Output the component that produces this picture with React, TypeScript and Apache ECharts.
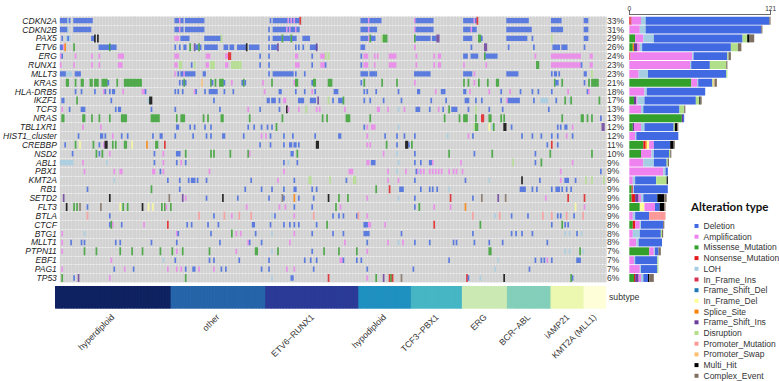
import React, { useEffect, useRef } from "react";
import * as echarts from "echarts";

type Cell = [number, string, number?];

const GENES = ["CDKN2A","CDKN2B","PAX5","ETV6","ERG","RUNX1","MLLT3","KRAS","HLA-DRB5","IKZF1","TCF3","NRAS","TBL1XR1","HIST1_cluster","CREBBP","NSD2","ABL1","PBX1","KMT2A","RB1","SETD2","FLT3","BTLA","CTCF","BTG1","MLLT1","PTPN11","EBF1","PAG1","TP53"];
const PERCENTS = ["33%","31%","29%","26%","24%","23%","23%","21%","18%","17%","13%","13%","12%","12%","11%","10%","9%","9%","9%","9%","9%","9%","9%","8%","8%","8%","7%","7%","7%","6%"];
const SAMPLE_COUNT = 367;

const SUBTYPES = ["hyperdiploid","other","ETV6\u2212RUNX1","hypodiploid","TCF3\u2212PBX1","ERG","BCR\u2212ABL","iAMP21","KMT2A (MLL1)"];
const SUBTYPE_SIZES = [77,63,62,35,34,30,29,22,15];
const SUBTYPE_COLORS = ["#0e2160","#2664a9","#2b3a97","#1f90c0","#46b6c4","#cbe9b3","#83cfba","#ecf7b0","#fefed8"];

const ALTERATIONS = ["Deletion","Amplification","Missense_Mutation","Nonsense_Mutation","LOH","In_Frame_Ins","Frame_Shift_Del","In_Frame_Del","Splice_Site","Frame_Shift_Ins","Disruption","Promoter_Mutation","Promoter_Swap","Multi_Hit","Complex_Event"];
const CODES = ["D","A","M","N","L","I","E","Y","S","F","R","P","W","X","C"];
const COLORS = ["#4169e1","#ee82ee","#33a02c","#e31a1c","#a6cee3","#d9304f","#1f78b4","#ffff99","#ff7f00","#6a3d9a","#b2df8a","#fb9a99","#fdbf6f","#000000","#7f6f60"];
const TALL_RATIO = 0.9;
const SHORT_RATIO = 0.6;

const CDKN2A: Cell[] = [[0,"D",5],[5,"L"],[6,"D"],[9,"D",13],[77,"D",3],[80,"A"],[81,"D",2],[84,"D",13],[141,"D"],[143,"D",10],[153,"A"],[154,"D"],[155,"A"],[156,"D"],[157,"A"],[158,"D",3],[161,"N"],[202,"D",5],[207,"A"],[208,"D",8],[238,"A"],[239,"D",12],[271,"D",7],[278,"A"],[279,"D"],[280,"N"],[300,"D",15],[330,"D",7],[352,"D",3]];
const CDKN2B: Cell[] = [[0,"D",5],[5,"L"],[9,"D",12],[77,"D",3],[80,"A"],[81,"D",2],[84,"D",13],[140,"D"],[143,"D",9],[152,"A"],[153,"D"],[154,"A"],[155,"D",3],[158,"A"],[159,"D",2],[202,"D",5],[207,"A"],[208,"D",5],[238,"A"],[239,"D",12],[271,"D",5],[276,"A"],[277,"D",3],[300,"D",17],[330,"D",3],[333,"D",5],[352,"D",3]];
const PAX5: Cell[] = [[1,"D"],[4,"L",3],[5,"D"],[21,"D",2],[23,"X"],[25,"X"],[77,"A",3],[81,"D",6],[97,"D",11],[108,"R"],[140,"D"],[143,"D",6],[149,"M"],[150,"D",5],[155,"M"],[156,"D",3],[163,"D",5],[202,"D",5],[207,"A"],[208,"M"],[209,"D",3],[216,"R"],[217,"M",3],[238,"M"],[239,"D",10],[250,"D",3],[253,"F",2],[271,"D",6],[281,"M",2],[283,"D"],[300,"D",14],[317,"D"],[330,"R"],[352,"D",3]];
const ETV6: Cell[] = [[0,"D",2],[2,"A"],[3,"S"],[9,"M"],[26,"D",8],[33,"M"],[34,"D",4],[77,"D"],[80,"D"],[83,"D",2],[87,"M"],[90,"F"],[91,"D",2],[93,"M"],[94,"D"],[97,"D",4],[101,"D",5],[110,"D",3],[114,"D",3],[119,"D",6],[125,"X"],[127,"D",7],[140,"D"],[142,"D",4],[146,"F"],[158,"D"],[160,"D"],[163,"D"],[168,"D",5],[172,"F"],[202,"D",3],[238,"A"],[276,"D"],[285,"F",2],[301,"D"],[318,"D"],[331,"D",5],[337,"D",4],[352,"D"]];
const ERG: Cell[] = [[0,"A"],[1,"D"],[10,"A"],[21,"A"],[26,"A"],[39,"A",4],[77,"A",3],[98,"A",3],[111,"A",2],[113,"N",2],[134,"D"],[140,"D"],[158,"A",2],[169,"D"],[175,"A",3],[178,"R"],[180,"R"],[202,"D"],[204,"A",3],[211,"A"],[213,"A"],[221,"A",5],[239,"A"],[251,"A"],[254,"A",2],[271,"D",3],[276,"D",5],[285,"M"],[286,"D",8],[319,"A"],[330,"A",20],[356,"A",2]];
const RUNX1: Cell[] = [[0,"A"],[9,"A"],[21,"A"],[26,"A"],[39,"A",3],[77,"A",2],[80,"R",2],[88,"D"],[90,"R"],[98,"A",2],[101,"R",3],[111,"A",2],[115,"R",7],[134,"D"],[140,"D"],[158,"A",3],[169,"D"],[175,"A",3],[178,"D"],[202,"D"],[204,"A",3],[211,"A"],[221,"A",5],[239,"A"],[251,"A"],[254,"A",2],[271,"A"],[286,"A"],[320,"M",2],[330,"A",20],[350,"D"],[356,"A",2]];
const MLLT3: Cell[] = [[0,"D",4],[4,"L",4],[10,"D",4],[77,"A"],[79,"D"],[81,"D",2],[83,"A"],[84,"D",7],[96,"D",2],[140,"D"],[143,"D",14],[158,"D"],[164,"D"],[202,"D",5],[208,"D",4],[212,"D"],[238,"D",10],[248,"D"],[271,"D",6],[278,"A"],[300,"D",8],[330,"D"],[332,"D",2],[335,"D"],[352,"D",2],[357,"R"]];
const KRAS: Cell[] = [[4,"M",2],[10,"M"],[14,"M",2],[20,"M",2],[23,"M",3],[28,"M",4],[32,"D"],[38,"M"],[43,"M",12],[80,"D"],[82,"D"],[83,"M"],[84,"D"],[95,"W"],[101,"M"],[102,"D"],[104,"M"],[107,"M",3],[110,"D"],[115,"A"],[122,"D"],[123,"M"],[124,"D"],[136,"A"],[142,"M"],[157,"A"],[158,"M",2],[169,"D"],[170,"M",2],[180,"M",3],[202,"D"],[204,"M"],[216,"M"],[226,"M"],[238,"A"],[271,"M"],[274,"M"],[278,"A"],[281,"M"],[287,"M"],[293,"M",2],[332,"M"],[333,"D",2],[337,"M"],[352,"D"],[355,"M"],[357,"M",5]];
const HLA_DRB5: Cell[] = [[10,"D"],[14,"D"],[23,"D"],[29,"A"],[30,"D"],[33,"D"],[35,"D",2],[42,"A"],[55,"A",2],[57,"D"],[77,"D"],[79,"D"],[82,"D"],[90,"A"],[91,"D"],[97,"D"],[100,"D",5],[105,"D"],[110,"D"],[116,"D"],[137,"A"],[147,"D",2],[158,"D"],[164,"D"],[169,"A"],[171,"D"],[184,"D",3],[204,"D"],[206,"D"],[212,"D"],[227,"D"],[240,"D",2],[252,"A"],[256,"D",3],[271,"D",2],[275,"A"],[288,"A"],[296,"D"],[302,"A"],[309,"D"],[317,"D"],[321,"D"],[330,"D"],[341,"A"],[354,"D"],[355,"A"]];
const IKZF1: Cell[] = [[1,"D",2],[11,"M"],[34,"D"],[59,"L"],[60,"X",2],[103,"D"],[139,"D",2],[142,"D",3],[147,"D"],[150,"A",2],[160,"D",4],[168,"D",4],[173,"F"],[180,"R"],[183,"D"],[187,"D",3],[190,"M"],[204,"D"],[208,"D"],[217,"D"],[229,"D"],[249,"D"],[259,"D"],[272,"D",3],[279,"D"],[283,"D"],[296,"D"],[300,"A"],[301,"D",8],[318,"D"],[323,"L",5],[333,"D"],[339,"M"],[342,"L"],[343,"M"],[362,"M"]];
const TCF3: Cell[] = [[1,"A"],[6,"D"],[14,"D",3],[37,"D"],[39,"D",2],[61,"D"],[77,"D"],[107,"D"],[126,"A"],[134,"D"],[147,"D"],[152,"X"],[153,"A"],[160,"A"],[165,"R"],[172,"A"],[174,"A"],[191,"A"],[213,"A",2],[220,"A"],[227,"L"],[231,"A"],[239,"D",3],[248,"D"],[254,"A"],[257,"D"],[261,"M"],[263,"D",4],[274,"D"],[279,"R"],[288,"D"],[297,"D"],[328,"D"]];
const NRAS: Cell[] = [[1,"M",2],[15,"M",2],[21,"M"],[26,"M"],[33,"M"],[41,"M",4],[61,"M",6],[78,"M"],[81,"M",3],[96,"M"],[99,"M"],[108,"M",2],[127,"M"],[149,"M"],[176,"M"],[179,"M"],[192,"M",3],[208,"M"],[258,"M"],[268,"M"],[271,"M",3],[279,"M"],[283,"N",2],[288,"M",2],[296,"M"],[298,"M"],[337,"M"],[350,"M",2],[354,"M"],[357,"M"],[363,"D"]];
const TBL1XR1: Cell[] = [[15,"A"],[27,"A"],[78,"D",2],[87,"D"],[90,"D"],[97,"D"],[101,"D"],[126,"D"],[130,"D"],[135,"D"],[139,"D"],[142,"D"],[145,"M"],[204,"D"],[206,"A"],[209,"A",3],[227,"L"],[278,"R"],[279,"M"],[280,"M"],[288,"Y"],[290,"L"],[291,"M"],[298,"X",2],[303,"D"],[334,"D"],[336,"D"],[339,"D",2],[344,"A"],[364,"F",2]];
const HIST1_CLUSTER: Cell[] = [[12,"D"],[27,"D",2],[30,"D"],[35,"A"],[41,"D"],[45,"D"],[62,"D"],[67,"D",2],[77,"D"],[89,"D"],[98,"D"],[101,"D"],[109,"D",2],[123,"D"],[135,"A"],[138,"A"],[141,"D"],[150,"D"],[156,"D"],[171,"D"],[187,"D",2],[206,"A"],[218,"D"],[226,"D"],[231,"D"],[238,"D"],[260,"L"],[274,"A"],[277,"D"],[310,"D"],[317,"D"],[323,"D"],[330,"D"],[334,"D"],[340,"A"],[344,"D"]];
const CREBBP: Cell[] = [[3,"D"],[10,"M"],[13,"Y"],[22,"M"],[26,"D"],[29,"A"],[30,"X",2],[35,"M"],[37,"M"],[43,"M"],[44,"M"],[48,"Y"],[58,"S"],[64,"M",2],[70,"N"],[134,"D"],[141,"D"],[150,"D"],[154,"D",2],[157,"D",2],[160,"D"],[172,"X",2],[206,"A"],[208,"A"],[219,"M"],[226,"D"],[232,"X",2],[234,"D"],[236,"M"],[327,"D"],[330,"N"],[334,"D"]];
const NSD2: Cell[] = [[8,"D"],[24,"M"],[26,"D"],[28,"M"],[33,"A"],[63,"D"],[69,"A"],[78,"D",3],[84,"M"],[101,"M"],[103,"M"],[114,"M"],[126,"M"],[127,"A"],[155,"D",2],[159,"M"],[217,"A"],[226,"L"],[238,"D"],[261,"M"],[278,"D"],[290,"M"],[319,"D"],[329,"M"],[357,"M"]];
const ABL1: Cell[] = [[0,"L",9],[15,"A"],[31,"L"],[63,"D"],[69,"A"],[78,"D"],[81,"A"],[84,"D"],[150,"D"],[153,"L"],[159,"D"],[206,"A",2],[209,"D",3],[227,"L"],[238,"D"],[242,"D"],[248,"D",2],[250,"A"],[269,"A"],[304,"R"],[319,"D"],[323,"M"],[344,"A"]];
const PBX1: Cell[] = [[16,"A"],[36,"A"],[40,"A",2],[62,"A",2],[67,"D"],[69,"A"],[100,"A"],[150,"A"],[194,"A",3],[220,"A"],[226,"L"],[232,"A"],[239,"D"],[240,"A"],[241,"L"],[242,"A"],[244,"A"],[248,"A"],[250,"A"],[252,"A"],[254,"A"],[256,"A"],[261,"A"],[264,"A"],[266,"A"],[270,"A"],[336,"A"],[363,"D"]];
const KMT2A: Cell[] = [[36,"L"],[72,"D"],[80,"D"],[86,"D"],[88,"D",3],[92,"D"],[98,"D"],[128,"D"],[146,"A"],[157,"D"],[167,"R",2],[181,"R"],[192,"D"],[197,"R",2],[220,"A"],[227,"A"],[238,"D"],[272,"D"],[288,"L"],[310,"X"],[322,"D"],[336,"A"],[339,"D",3],[346,"D"],[353,"R"],[357,"R"],[365,"R"]];
const RB1: Cell[] = [[18,"D"],[61,"M"],[80,"D"],[124,"D"],[135,"D"],[142,"D"],[150,"D"],[157,"D",2],[169,"D"],[172,"D"],[212,"M"],[221,"N"],[228,"D",3],[242,"D"],[248,"D"],[250,"D"],[253,"D"],[261,"L"],[309,"D",4],[317,"D"],[320,"D"],[330,"D"],[333,"D",3],[337,"D"],[340,"D"],[343,"D"]];
const SETD2: Cell[] = [[2,"F"],[33,"X"],[73,"C"],[82,"F"],[84,"A"],[98,"D"],[109,"X"],[119,"D"],[140,"D"],[149,"C"],[150,"D"],[157,"S"],[160,"D"],[170,"D"],[180,"X"],[187,"M"],[193,"M"],[206,"A"],[227,"L"],[238,"D"],[262,"N"],[277,"D"],[283,"C"],[294,"F"],[299,"C"],[326,"A"],[341,"N"],[352,"N"]];
const FLT3: Cell[] = [[4,"X"],[9,"M"],[11,"M"],[13,"C"],[18,"D"],[27,"C"],[40,"Y"],[42,"M"],[45,"M"],[55,"X"],[59,"Y"],[62,"Y"],[68,"M"],[70,"M"],[71,"A"],[74,"M"],[125,"A"],[147,"A"],[151,"A"],[157,"D"],[169,"D"],[185,"M"],[188,"A"],[238,"D"],[241,"M"],[251,"A"],[262,"A"],[272,"S"],[346,"Y"],[352,"A"]];
const BTLA: Cell[] = [[18,"P"],[33,"D"],[93,"P"],[103,"D"],[110,"P"],[115,"A"],[120,"P"],[128,"P"],[142,"L"],[144,"D"],[157,"A"],[170,"P"],[183,"D"],[187,"D"],[190,"D"],[199,"D"],[200,"P"],[206,"A"],[277,"P"],[292,"L"],[295,"P"],[303,"D"],[314,"D"],[324,"P"],[330,"P"],[334,"D"],[336,"D"],[340,"P"],[345,"D"],[351,"P"]];
const CTCF: Cell[] = [[33,"D"],[34,"M"],[35,"A"],[41,"D"],[56,"A"],[72,"N"],[85,"D"],[88,"D"],[99,"D"],[106,"D"],[129,"D",2],[141,"D"],[150,"D"],[154,"D"],[157,"D"],[160,"D"],[172,"D"],[179,"M"],[204,"D"],[205,"D",2],[207,"A",2],[218,"A"],[251,"N"],[282,"M"],[330,"D"],[337,"M"],[339,"D"],[341,"D"]];
const BTG1: Cell[] = [[1,"A"],[16,"L"],[78,"A"],[79,"D"],[101,"D"],[115,"M"],[118,"A"],[121,"A"],[131,"D"],[142,"L"],[157,"A"],[169,"D"],[183,"D"],[190,"D"],[204,"D",4],[229,"D"],[277,"D"],[303,"D"],[306,"D"],[310,"D"],[317,"D"],[339,"L"],[342,"L"],[347,"D"],[350,"L"]];
const MLLT1: Cell[] = [[1,"A"],[7,"D"],[14,"D"],[16,"D"],[37,"D"],[40,"D"],[61,"D"],[78,"D"],[107,"D"],[126,"A"],[127,"D"],[135,"D"],[154,"A"],[191,"A"],[206,"D"],[220,"A"],[227,"L"],[230,"A"],[238,"D"],[248,"D"],[264,"D"],[266,"D"],[278,"D"],[288,"D"],[297,"D"],[327,"D"]];
const PTPN11: Cell[] = [[1,"A"],[16,"M"],[24,"M"],[40,"M"],[48,"M"],[55,"M"],[67,"M"],[75,"M"],[78,"A"],[82,"M"],[100,"M"],[118,"A"],[131,"M",2],[142,"L"],[146,"M"],[169,"D"],[177,"M"],[187,"M"],[199,"M"],[206,"A"],[288,"M",2],[339,"L"],[342,"L"],[349,"M"],[351,"L"]];
const EBF1: Cell[] = [[34,"A"],[69,"L"],[77,"D"],[100,"D"],[103,"D"],[120,"D"],[140,"D"],[164,"D"],[168,"D"],[172,"D"],[188,"A",2],[190,"D"],[199,"D"],[202,"D"],[261,"D"],[294,"L"],[319,"D"],[323,"D"],[325,"D"],[327,"A"],[330,"D"],[347,"D",3]];
const PAG1: Cell[] = [[1,"A"],[36,"D"],[43,"A"],[49,"D"],[72,"A"],[78,"A"],[81,"A"],[84,"D"],[89,"D",2],[93,"A"],[103,"A"],[108,"D"],[111,"D"],[135,"D"],[140,"D"],[152,"A"],[157,"A"],[170,"D"],[206,"D"],[237,"D"],[292,"L"],[315,"D"]];
const TP53: Cell[] = [[1,"M"],[9,"D"],[12,"F"],[33,"A"],[84,"M"],[142,"L"],[155,"D",2],[180,"N"],[206,"A"],[212,"M"],[217,"F"],[221,"N"],[222,"M"],[223,"N"],[229,"C"],[273,"N"],[274,"D"],[282,"L"],[298,"X"],[343,"M"],[344,"D"]];

const CELL_ROWS: Cell[][] = [CDKN2A,CDKN2B,PAX5,ETV6,ERG,RUNX1,MLLT3,KRAS,HLA_DRB5,IKZF1,TCF3,NRAS,TBL1XR1,HIST1_CLUSTER,CREBBP,NSD2,ABL1,PBX1,KMT2A,RB1,SETD2,FLT3,BTLA,CTCF,BTG1,MLLT1,PTPN11,EBF1,PAG1,TP53];

const BAR_MISSENSE = [0,0,5,3,0,0,0,53,0,4,0,45,3,0,12,10,0,0,0,2,2,9,0,3,0,0,17,0,0,4];
const BAR_NONSENSE = [1,0,0,0,0,0,0,0,0,0,0,0,0,0,2,0,0,0,0,1,3,0,0,2,0,0,0,0,0,1];
const BAR_IN_FRAME_INS = [1,0,0,0,1,0,0,0,0,0,0,0,0,0,0,0,0,0,0,0,0,0,0,0,0,0,0,0,0,0];
const BAR_SPLICE = [0,0,0,1,0,0,0,0,0,0,0,0,0,0,1,0,0,0,0,0,0,0,0,0,0,0,0,0,0,0];
const BAR_FS_INS = [0,0,0,3,0,0,0,0,0,2,0,1,1,0,0,0,0,0,0,0,3,0,0,0,0,0,0,0,0,3];
const BAR_FS_DEL = [0,0,0,0,0,0,0,0,0,0,0,0,0,0,0,0,0,0,0,0,0,0,0,0,0,0,0,0,0,0];
const BAR_IN_FRAME_DEL = [0,0,0,0,0,0,0,0,0,0,0,0,0,0,2,0,0,0,0,0,0,4,0,0,0,0,0,0,0,0];
const BAR_AMP = [8,9,7,2,53,52,8,5,13,1,10,0,6,5,4,9,12,29,3,0,2,9,3,4,3,6,4,4,9,2];
const BAR_LOH = [4,5,9,2,1,1,8,1,2,6,2,0,3,1,0,2,9,2,2,1,2,0,2,1,6,2,1,1,1,2];
const BAR_DEL = [106,99,76,76,29,16,67,12,50,44,31,1,25,36,14,13,11,2,18,29,12,4,12,19,18,20,3,19,14,4];
const BAR_DISRUPTION = [0,0,4,6,1,14,1,1,0,3,4,0,1,0,0,1,1,0,9,0,0,0,0,0,1,0,0,1,1,0];
const BAR_PROMOTER_MUT = [0,0,0,0,0,0,0,0,0,0,0,0,0,0,0,0,0,0,0,0,0,0,14,0,0,0,0,0,0,0];
const BAR_PROMOTER_SWAP = [0,0,0,0,0,0,0,1,0,0,0,0,0,0,0,0,0,0,0,0,0,0,0,0,0,0,0,0,0,0];
const BAR_MULTI = [0,0,2,0,0,0,0,0,0,1,0,0,2,0,3,0,0,0,1,0,6,4,0,0,0,0,0,0,0,1];
const BAR_COMPLEX = [1,1,4,3,2,1,0,2,0,1,1,0,1,0,1,1,1,0,0,0,2,1,0,1,1,0,2,0,0,4];

const STACK: [string, number[]][] = [
  ["Missense_Mutation", BAR_MISSENSE],
  ["Nonsense_Mutation", BAR_NONSENSE],
  ["In_Frame_Ins", BAR_IN_FRAME_INS],
  ["Splice_Site", BAR_SPLICE],
  ["Frame_Shift_Ins", BAR_FS_INS],
  ["Frame_Shift_Del", BAR_FS_DEL],
  ["In_Frame_Del", BAR_IN_FRAME_DEL],
  ["Amplification", BAR_AMP],
  ["LOH", BAR_LOH],
  ["Deletion", BAR_DEL],
  ["Disruption", BAR_DISRUPTION],
  ["Promoter_Mutation", BAR_PROMOTER_MUT],
  ["Promoter_Swap", BAR_PROMOTER_SWAP],
  ["Multi_Hit", BAR_MULTI],
  ["Complex_Event", BAR_COMPLEX],
];

const FONT = "'Liberation Sans', Arial, sans-serif";

export default function App() {
  const ref = useRef<HTMLDivElement>(null);
  useEffect(() => {
    const chart = echarts.init(ref.current!, undefined, { renderer: "svg" });

    const cellData: number[][] = [];
    CELL_ROWS.forEach((row, r) => {
      row.forEach(([start, code, n]) => {
        cellData.push([start, r, n ?? 1, CODES.indexOf(code)]);
      });
    });

    const sampleCats: string[] = [];
    const sampleData: number[][] = [];
    let offset = 0;
    const midpoints: Record<number, string> = {};
    SUBTYPE_SIZES.forEach((size, i) => {
      midpoints[offset + Math.floor(size / 2)] = SUBTYPES[i];
      for (let k = 0; k < size; k++) sampleData.push([offset + k, 0, i]);
      offset += size;
    });
    for (let i = 0; i < SAMPLE_COUNT; i++) sampleCats.push(midpoints[i] ?? "");

    const option: any = {
      animation: false,
      backgroundColor: "#ffffff",
      title: {
        text: "Alteration type",
        left: 691,
        top: 200,
        padding: 0,
        textStyle: { fontFamily: "Lato, " + FONT, fontSize: 11.5, fontWeight: "bold", color: "#111" },
      },
      legend: {
        data: ALTERATIONS,
        orient: "vertical",
        left: 694.5,
        top: 221,
        padding: 0,
        icon: "rect",
        itemWidth: 4,
        itemHeight: 4,
        itemGap: 0.7,
        selectedMode: false,
        textStyle: { fontFamily: FONT, fontSize: 8.5, lineHeight: 10, color: "#333", padding: 0 },
      },
      grid: [
        { left: 55, top: 16.2, width: 551, height: 266.2, show: true, backgroundColor: "#d8d8d8", borderWidth: 0 },
        { left: 629.3, top: 16.2, width: 145.4, height: 266.2, borderWidth: 0 },
        { left: 55, top: 286, width: 551, height: 22.6, borderWidth: 0 },
      ],
      xAxis: [
        {
          gridIndex: 0, type: "value", min: 0, max: SAMPLE_COUNT, interval: 1,
          axisLine: { show: false }, axisTick: { show: false }, axisLabel: { show: false },
          splitLine: { show: true, lineStyle: { color: "#d0d0d0", width: 0.6 } },
        },
        {
          gridIndex: 1, type: "value", position: "top", min: 0, max: 121, interval: 121, offset: 2,
          axisLine: { show: true, lineStyle: { color: "#444", width: 0.8 } },
          axisTick: { show: true, length: 4, lineStyle: { color: "#444", width: 0.8 } },
          axisLabel: { show: true, fontFamily: FONT, fontSize: 6.5, color: "#333", margin: 2 },
          splitLine: { show: false },
        },
        {
          gridIndex: 2, type: "category", data: sampleCats,
          axisLine: { show: false }, axisTick: { show: false },
          axisLabel: {
            show: true, rotate: 45, margin: 7, fontFamily: FONT, fontSize: 8.7, color: "#333",
            interval: (i: number) => midpoints[i] !== undefined,
          },
        },
      ],
      yAxis: [
        {
          gridIndex: 0, type: "category", data: GENES, inverse: true,
          axisLine: { show: false }, axisTick: { show: false },
          axisLabel: { interval: 0, margin: 3, fontFamily: FONT, fontSize: 8.5, fontStyle: "italic", color: "#222" },
          splitLine: { show: true, interval: 0, lineStyle: { color: "#f4f4f4", width: 1 } },
        },
        {
          gridIndex: 0, type: "category", data: PERCENTS, inverse: true, position: "right",
          axisLine: { show: false }, axisTick: { show: false },
          axisLabel: { interval: 0, margin: 1, fontFamily: FONT, fontSize: 8.5, color: "#333" },
          splitLine: { show: false },
        },
        {
          gridIndex: 1, type: "category", data: GENES, inverse: true,
          axisLine: { show: false }, axisTick: { show: false }, axisLabel: { show: false },
        },
        {
          gridIndex: 2, type: "category", data: ["subtype"], position: "right",
          axisLine: { show: false }, axisTick: { show: false },
          axisLabel: { margin: 3, fontFamily: FONT, fontSize: 8.7, color: "#333" },
        },
      ],
      series: [
        {
          name: "cells",
          type: "custom",
          xAxisIndex: 0,
          yAxisIndex: 0,
          clip: true,
          data: cellData,
          encode: { x: 0, y: 1 },
          renderItem: (_p: any, api: any) => {
            const start = api.value(0);
            const row = api.value(1);
            const count = api.value(2);
            const t = api.value(3);
            const p0 = api.coord([start, row]);
            const p1 = api.coord([start + count, row]);
            const rowH = api.size([0, 1])[1];
            const code = CODES[t];
            const ratio = code === "D" || code === "A" || code === "L" ? SHORT_RATIO : TALL_RATIO;
            const h = rowH * ratio;
            return {
              type: "rect",
              shape: { x: p0[0], y: p0[1] - h / 2, width: p1[0] - p0[0] + 0.2, height: h },
              style: { fill: COLORS[t], opacity: 0.82 },
            };
          },
        },
        {
          name: "subtype",
          type: "custom",
          xAxisIndex: 2,
          yAxisIndex: 3,
          data: sampleData,
          encode: { x: 0, y: 1 },
          renderItem: (_p: any, api: any) => {
            const c = api.coord([api.value(0), 0]);
            const size = api.size([1, 1]);
            const last = api.value(0) === SAMPLE_COUNT - 1;
            return {
              type: "rect",
              shape: { x: c[0] - size[0] / 2, y: c[1] - size[1] / 2, width: size[0] + (last ? 0 : 0.8), height: size[1] },
              style: { fill: SUBTYPE_COLORS[api.value(2)] },
            };
          },
        },
        ...STACK.map(([name, values]) => ({
          name,
          type: "bar",
          stack: "total",
          xAxisIndex: 1,
          yAxisIndex: 2,
          barCategoryGap: "10%",
          data: values,
          itemStyle: { color: COLORS[ALTERATIONS.indexOf(name)] },
        })),
      ],
    };

    chart.setOption(option);
    return () => chart.dispose();
  }, []);

  return (
    <div
      ref={ref}
      style={{ position: "fixed", left: 0, top: 0, width: 779, height: 381, background: "#fff" }}
    />
  );
}
